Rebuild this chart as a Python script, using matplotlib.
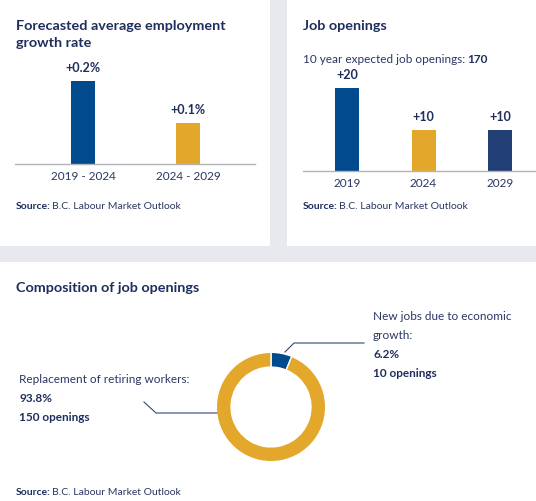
import matplotlib
matplotlib.use("Agg")
import matplotlib.pyplot as plt
from matplotlib.patches import Rectangle
from matplotlib.lines import Line2D

# ---- data ----
growth_periods = ["2019 - 2024", "2024 - 2029"]
growth_rates = [0.2, 0.1]
growth_labels = ["+0.2%", "+0.1%"]

opening_years = ["2019", "2024", "2029"]
opening_values = [20, 10, 10]
opening_labels = ["+20", "+10", "+10"]
total_openings = 170

comp_names = ["New jobs due to economic growth", "Replacement of retiring workers"]
comp_pct = [6.2, 93.8]
comp_openings = [10, 150]

# ---- style ----
W, H = 536, 501
DPI = 100
BG = "#e8e9ee"
NAVY = "#1e2f5e"
TXT = "#2b3763"
BLUE = "#004a8d"
GOLD = "#e3a72c"
DARK = "#213f75"
FONT = "Lato"
plt.rcParams["font.family"] = [FONT, "DejaVu Sans"]

fig = plt.figure(figsize=(W / DPI, H / DPI), dpi=DPI)
fig.patch.set_facecolor(BG)
renderer = fig.canvas.get_renderer()


def fx(x):
    return x / W


def fy(y):
    return 1 - y / H


def panel(x0, y0, x1, y1):
    fig.patches.append(Rectangle((fx(x0), fy(y1)), fx(x1 - x0), (y1 - y0) / H,
                                 transform=fig.transFigure, facecolor="white",
                                 edgecolor="none", zorder=-5))


def txt(x, y, s, size=8.5, weight="normal", color=TXT, ha="left", va="baseline"):
    return fig.text(fx(x), fy(y), s, fontsize=size, fontweight=weight, color=color,
                    ha=ha, va=va)


def txt2(x, y, s1, s2, size, w1, w2, c1, c2, gap=1):
    t = txt(x, y, s1, size, w1, c1)
    bb = t.get_window_extent(renderer=renderer)
    txt(x + bb.width + gap, y, s2, size, w2, c2)


def axes_px(x0, y0, x1, y1):
    return fig.add_axes([fx(x0), fy(y1), fx(x1 - x0), (y1 - y0) / H])


panel(0, 0, 270, 246)
panel(287, 0, 536, 246)
panel(0, 262, 536, 501)

TS = 10.4
VS = 9
# ---- panel 1: growth rate ----
txt(16, 30, "Forecasted average employment", TS, "bold", NAVY)
txt(16, 47, "growth rate", TS, "bold", NAVY)
ax1 = axes_px(15, 60, 255, 164)
ax1.bar(range(len(growth_rates)), growth_rates, width=0.229,
        color=[BLUE, GOLD])
ax1.set_xlim(-0.648, 1.638)
ax1.set_ylim(0, 0.2 * 104 / 83)
for i, (v, l) in enumerate(zip(growth_rates, growth_labels)):
    ax1.annotate(l, (i, v), xytext=(0, 5), textcoords="offset points",
                 ha="center", va="bottom", fontsize=VS, fontweight="bold",
                 color=NAVY)
ax1.set_xticks(range(len(growth_periods)))
ax1.set_xticklabels(growth_periods, fontsize=8.5, color=TXT)
ax1.tick_params(axis="x", length=0, pad=5)
ax1.set_yticks([])
for s in ["top", "right", "left"]:
    ax1.spines[s].set_visible(False)
ax1.spines["bottom"].set_color("#b3b3b8")
ax1.spines["bottom"].set_linewidth(1)
ax1.patch.set_alpha(0)
txt2(16, 209, "Source:", "B.C. Labour Market Outlook", 7.5, "bold", "normal", NAVY, TXT)

# ---- panel 2: job openings ----
txt(303, 30, "Job openings", TS, "bold", NAVY)
txt2(303, 63, "10 year expected job openings:", str(total_openings), 8.5,
     "normal", "bold", TXT, NAVY, gap=2)
ax2 = axes_px(303, 70, 536, 171)
ax2.bar(range(len(opening_values)), opening_values, width=0.314,
        color=[BLUE, GOLD, DARK])
ax2.set_xlim(-0.575, 2.47)
ax2.set_ylim(0, 20 * 101 / 83)
for i, (v, l) in enumerate(zip(opening_values, opening_labels)):
    ax2.annotate(l, (i, v), xytext=(0, 5), textcoords="offset points",
                 ha="center", va="bottom", fontsize=VS, fontweight="bold",
                 color=NAVY)
ax2.set_xticks(range(len(opening_years)))
ax2.set_xticklabels(opening_years, fontsize=8.5, color=TXT)
ax2.tick_params(axis="x", length=0, pad=5)
ax2.set_yticks([])
for s in ["top", "right", "left"]:
    ax2.spines[s].set_visible(False)
ax2.spines["bottom"].set_color("#b3b3b8")
ax2.spines["bottom"].set_linewidth(1)
ax2.patch.set_alpha(0)
txt2(303, 209, "Source:", "B.C. Labour Market Outlook", 7.5, "bold", "normal", NAVY, TXT)

# ---- panel 3: composition donut ----
txt(16, 292, "Composition of job openings", TS, "bold", NAVY)
ax3 = axes_px(211, 347, 331, 467)
ax3.pie(comp_pct, colors=[BLUE, GOLD], startangle=90, counterclock=False,
        radius=1, wedgeprops=dict(width=0.27, edgecolor="white", linewidth=1))
ax3.set_xlim(-1.097, 1.097)
ax3.set_ylim(-1.097, 1.097)
ax3.set_aspect("equal")
ax3.axis("off")

LINE = "#34477a"
fig.add_artist(Line2D([fx(285), fx(294), fx(364)], [fy(352), fy(343), fy(343)],
                      transform=fig.transFigure, color=LINE, lw=0.8))
fig.add_artist(Line2D([fx(217), fx(156), fx(144)], [fy(413), fy(413), fy(402)],
                      transform=fig.transFigure, color=LINE, lw=0.8))

txt(373, 320, "New jobs due to economic", 8.5)
txt(373, 339, "growth:", 8.5)
txt(373, 358, f"{comp_pct[0]}%", 8.5, "bold", NAVY)
txt(373, 377, f"{comp_openings[0]} openings", 8.5, "bold", NAVY)

txt(19, 383, "Replacement of retiring workers:", 8.5)
txt(19, 402, f"{comp_pct[1]}%", 8.5, "bold", NAVY)
txt(19, 421, f"{comp_openings[1]} openings", 8.5, "bold", NAVY)

txt2(16, 495, "Source:", "B.C. Labour Market Outlook", 7.5, "bold", "normal", NAVY, TXT)

fig.savefig("out.png", dpi=DPI, facecolor=BG)
